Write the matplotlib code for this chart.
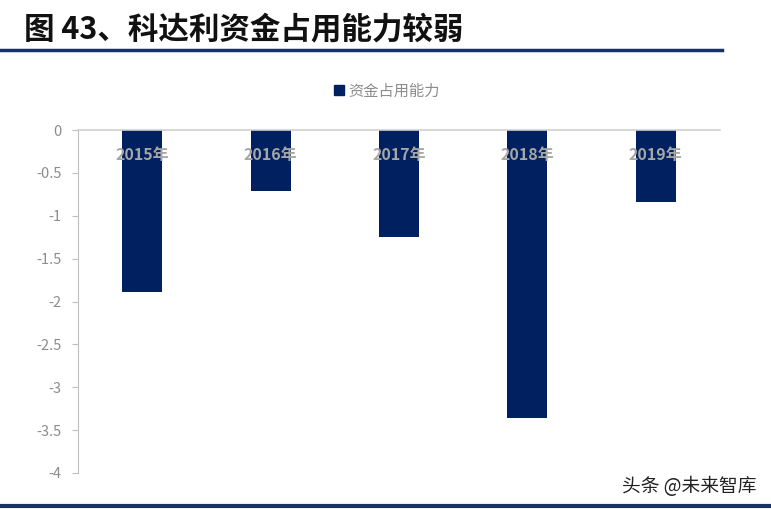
import matplotlib
matplotlib.use("Agg")
import matplotlib.pyplot as plt
from matplotlib.lines import Line2D

plt.rcParams['font.family'] = ['Noto Sans CJK SC', 'DejaVu Sans']

categories = ['2015年', '2016年', '2017年', '2018年', '2019年']
values = [-1.89, -0.71, -1.25, -3.36, -0.84]
yticks = [0, -0.5, -1, -1.5, -2, -2.5, -3, -3.5, -4]
ytick_labels = ['0', '-0.5', '-1', '-1.5', '-2', '-2.5', '-3', '-3.5', '-4']
series_name = '资金占用能力'
title = '图 43、科达利资金占用能力较弱'
watermark = '头条 @未来智库'

bar_color = '#002060'
grey = '#8c8c8c'

fig = plt.figure(figsize=(7.71, 5.09), dpi=100)
ax = fig.add_axes([78/771, 1-473/509, (720-78)/771, (473-130)/509])

x = list(range(len(categories)))
ax.bar(x, values, width=0.31, color=bar_color, zorder=2)
ax.set_xlim(-0.5, 4.5)
ax.set_ylim(-4, 0)
ax.set_yticks(yticks)
ax.set_yticklabels(ytick_labels, color=grey, fontsize=10.5)
ax.tick_params(axis='y', length=4, color='#bfbfbf', pad=8)
ax.set_xticks([])
for s in ['right', 'bottom']:
    ax.spines[s].set_visible(False)
ax.spines['left'].set_color('#bfbfbf')
ax.spines['top'].set_color('#d0d0d0')
ax.spines['top'].set_linewidth(1.2)

for xi, c in zip(x, categories):
    ax.text(xi, -0.29, c, ha='center', va='center', color='#a6a6a6',
            fontsize=11.5, fontweight='bold', zorder=3)

# legend
handle = Line2D([], [], marker='s', linestyle='none', color=bar_color, markersize=7)
fig.legend([handle], [series_name], loc='center', bbox_to_anchor=(386/771, 1-91/509),
           frameon=False, fontsize=11, labelcolor=grey, handletextpad=0.2,
           handlelength=0.8)

# title
fig.text(24/771, 1-29/509, title, fontsize=22, fontweight='bold', ha='left', va='center',
         color='#111111')
fig.add_artist(Line2D([0, 722/771], [1-50/509, 1-50/509], color='#1a3068', linewidth=2.5))
fig.add_artist(Line2D([0, 1], [1-506/509, 1-506/509], color='#1a3068', linewidth=3))

fig.text(757/771, 1-487/509, watermark, fontsize=13.5, ha='right', va='center', color='#222222')

fig.savefig('out.png', dpi=100)
